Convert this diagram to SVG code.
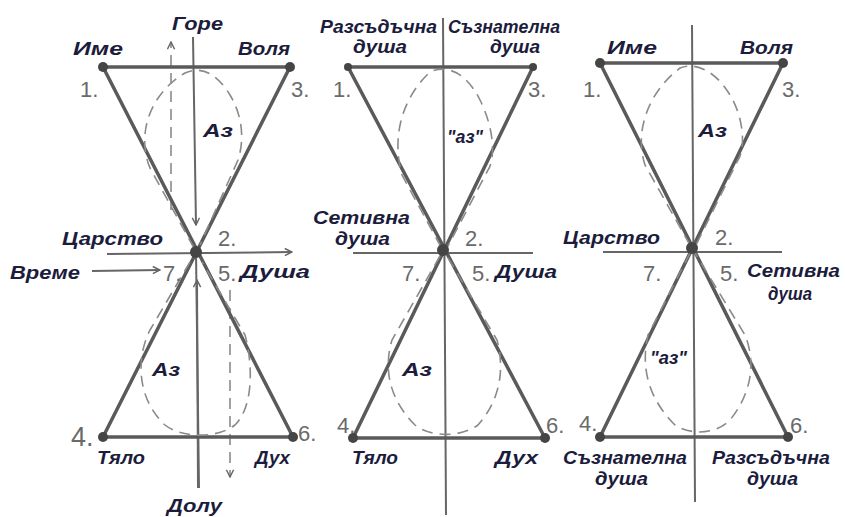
<svg xmlns="http://www.w3.org/2000/svg" width="845" height="517" viewBox="0 0 845 517">
<style>
.lbl{font-family:"Liberation Sans","DejaVu Sans",sans-serif;font-style:italic;font-weight:bold;font-size:19px;fill:#1c1c3c}
.num{font-family:"Liberation Sans","DejaVu Sans",sans-serif;font-size:22px;fill:#6a6a6a}
.tri{stroke:#5a5a5a;stroke-width:3.5;fill:none;stroke-linecap:round}
.axis{stroke:#666;stroke-width:2;fill:none}
.dash{stroke:#8a8a8a;stroke-width:1.6;fill:none;stroke-dasharray:11 7}
.dot{fill:#454545}
</style>
<defs>
<marker id="ah" viewBox="0 0 10 10" refX="9" refY="5" markerWidth="9" markerHeight="9" markerUnits="userSpaceOnUse" orient="auto">
<path d="M1 1 L9 5 L1 9" fill="none" stroke="#666" stroke-width="1.6"/>
</marker>
</defs>
<rect width="845" height="517" fill="#fff"/>

<g id="connectors">
<!-- diagram 1 -->
<line class="axis" x1="193" y1="37" x2="196" y2="225" marker-end="url(#ah)"/>
<line class="axis" x1="196" y1="252" x2="199" y2="488"/>
<line class="axis" x1="198" y1="488" x2="197" y2="280" marker-end="url(#ah)"/>
<line class="axis" x1="107" y1="254" x2="292" y2="252" marker-end="url(#ah)"/>
<line class="axis" x1="92" y1="271" x2="160" y2="270" marker-end="url(#ah)"/>
<line class="dash" x1="171" y1="210" x2="171" y2="42" marker-end="url(#ah)"/>
<line class="dash" x1="230" y1="290" x2="230" y2="477" marker-end="url(#ah)"/>
<path class="tri" d="M103 67 L290 67 M103 67 L293 437 M290 67 L103 437 M103 437 L293 437"/>
<path class="dash" d="M194 248 L150 168 C138 140 145 97 185 73 C200 66 216 72 230 95 C245 120 243 145 238 160 L200 245"/>
<path class="dash" d="M190 262 L150 330 C135 360 138 400 165 425 C180 437 215 440 235 425 C255 405 252 360 245 335 L202 262"/>
<!-- diagram 2 -->
<line class="axis" x1="443" y1="18" x2="446" y2="515"/>
<line class="axis" x1="353" y1="253" x2="533" y2="253"/>
<path class="tri" d="M348 67 L533 67 M348 67 L545 438 M533 67 L353 438 M353 438 L545 438"/>
<path class="dash" d="M441 247 L402 175 C392 140 400 100 430 72 C445 65 465 70 480 100 C495 130 495 160 488 170 L447 248"/>
<path class="dash" d="M440 256 L392 340 C383 370 390 400 415 425 C430 437 460 438 478 425 C500 400 505 370 497 340 L447 256"/>
<!-- diagram 3 -->
<line class="axis" x1="692" y1="25" x2="695" y2="502"/>
<line class="axis" x1="603" y1="252" x2="782" y2="252"/>
<path class="tri" d="M600 63 L783 63 M600 63 L788 437 M783 63 L600 437 M600 437 L788 437"/>
<path class="dash" d="M690 245 L645 165 C635 135 645 95 680 68 C695 62 715 70 730 95 C745 120 745 150 738 160 L696 245"/>
<path class="dash" d="M690 253 L648 335 C640 370 650 400 675 425 C690 435 715 435 730 420 C750 395 757 365 745 335 L695 253"/>
</g>

<g id="d1-n1"><circle class="dot" cx="103" cy="67" r="5"/><text class="num" x="80" y="97">1.</text><text class="lbl" x="73" y="55" textLength="50" lengthAdjust="spacingAndGlyphs">Име</text></g>
<g id="d1-n3"><circle class="dot" cx="290" cy="67" r="5"/><text class="num" x="291" y="97">3.</text><text class="lbl" x="238" y="55" textLength="52" lengthAdjust="spacingAndGlyphs">Воля</text></g>
<g id="d1-n2"><circle class="dot" cx="196" cy="252" r="6"/><text class="num" x="218" y="246">2.</text><text class="lbl" x="62" y="245" textLength="101" lengthAdjust="spacingAndGlyphs">Царство</text></g>
<g id="d1-n7"><text class="num" x="163" y="281">7.</text><text class="lbl" x="10" y="279" textLength="70" lengthAdjust="spacingAndGlyphs">Време</text></g>
<g id="d1-n5"><text class="num" x="218" y="281">5.</text><text class="lbl" x="240" y="278" textLength="70" lengthAdjust="spacingAndGlyphs">Душа</text></g>
<g id="d1-n4"><circle class="dot" cx="103" cy="437" r="5"/><text class="num" x="71" y="446" style="font-size:27px">4.</text><text class="lbl" x="97" y="464" textLength="48" lengthAdjust="spacingAndGlyphs">Тяло</text></g>
<g id="d1-n6"><circle class="dot" cx="293" cy="437" r="5"/><text class="num" x="298" y="441">6.</text><text class="lbl" x="255" y="464" textLength="35" lengthAdjust="spacingAndGlyphs">Дух</text></g>
<g id="d1-top"><text class="lbl" x="172" y="30" textLength="51" lengthAdjust="spacingAndGlyphs">Горе</text></g>
<g id="d1-bottom"><text class="lbl" x="167" y="512" textLength="55" lengthAdjust="spacingAndGlyphs">Долу</text></g>
<g id="d1-az1"><text class="lbl" x="203" y="137" textLength="30" lengthAdjust="spacingAndGlyphs">Аз</text></g>
<g id="d1-az2"><text class="lbl" x="152" y="376" textLength="28" lengthAdjust="spacingAndGlyphs">Аз</text></g>

<g id="d2-n1"><circle class="dot" cx="348" cy="67" r="4"/><text class="num" x="333" y="97">1.</text><text class="lbl" x="320" y="33" textLength="117" lengthAdjust="spacingAndGlyphs">Разсъдъчна</text><text class="lbl" x="353" y="53" textLength="54" lengthAdjust="spacingAndGlyphs">душа</text></g>
<g id="d2-n3"><circle class="dot" cx="533" cy="67" r="4"/><text class="num" x="528" y="97">3.</text><text class="lbl" x="448" y="33" textLength="112" lengthAdjust="spacingAndGlyphs">Съзнателна</text><text class="lbl" x="490" y="53" textLength="50" lengthAdjust="spacingAndGlyphs">душа</text></g>
<g id="d2-n2"><circle class="dot" cx="443" cy="250" r="6"/><text class="num" x="465" y="246">2.</text><text class="lbl" x="313" y="224" textLength="97" lengthAdjust="spacingAndGlyphs">Сетивна</text><text class="lbl" x="335" y="245" textLength="55" lengthAdjust="spacingAndGlyphs">душа</text></g>
<g id="d2-n7"><text class="num" x="402" y="281">7.</text></g>
<g id="d2-n5"><text class="num" x="472" y="281">5.</text><text class="lbl" x="495" y="278" textLength="62" lengthAdjust="spacingAndGlyphs">Душа</text></g>
<g id="d2-n4"><circle class="dot" cx="353" cy="438" r="5"/><text class="num" x="337" y="433">4.</text><text class="lbl" x="352" y="464" textLength="46" lengthAdjust="spacingAndGlyphs">Тяло</text></g>
<g id="d2-n6"><circle class="dot" cx="545" cy="438" r="5"/><text class="num" x="546" y="433">6.</text><text class="lbl" x="495" y="464" textLength="43" lengthAdjust="spacingAndGlyphs">Дух</text></g>
<g id="d2-az1"><text class="lbl" x="447" y="143" textLength="36" lengthAdjust="spacingAndGlyphs">"аз"</text></g>
<g id="d2-az2"><text class="lbl" x="402" y="376" textLength="30" lengthAdjust="spacingAndGlyphs">Аз</text></g>

<g id="d3-n1"><circle class="dot" cx="600" cy="63" r="5"/><text class="num" x="583" y="97">1.</text><text class="lbl" x="607" y="54" textLength="50" lengthAdjust="spacingAndGlyphs">Име</text></g>
<g id="d3-n3"><circle class="dot" cx="783" cy="63" r="5"/><text class="num" x="782" y="97">3.</text><text class="lbl" x="740" y="54" textLength="53" lengthAdjust="spacingAndGlyphs">Воля</text></g>
<g id="d3-n2"><circle class="dot" cx="692" cy="248" r="6"/><text class="num" x="715" y="245">2.</text><text class="lbl" x="563" y="244" textLength="97" lengthAdjust="spacingAndGlyphs">Царство</text></g>
<g id="d3-n7"><text class="num" x="643" y="281">7.</text></g>
<g id="d3-n5"><text class="num" x="720" y="281">5.</text><text class="lbl" x="747" y="277" textLength="93" lengthAdjust="spacingAndGlyphs">Сетивна</text><text class="lbl" x="768" y="300" textLength="44" lengthAdjust="spacingAndGlyphs">душа</text></g>
<g id="d3-n4"><circle class="dot" cx="600" cy="437" r="5"/><text class="num" x="579" y="431">4.</text><text class="lbl" x="563" y="464" textLength="124" lengthAdjust="spacingAndGlyphs">Съзнателна</text><text class="lbl" x="595" y="485" textLength="53" lengthAdjust="spacingAndGlyphs">душа</text></g>
<g id="d3-n6"><circle class="dot" cx="788" cy="437" r="5"/><text class="num" x="790" y="433">6.</text><text class="lbl" x="712" y="464" textLength="118" lengthAdjust="spacingAndGlyphs">Разсъдъчна</text><text class="lbl" x="747" y="485" textLength="51" lengthAdjust="spacingAndGlyphs">душа</text></g>
<g id="d3-az1"><text class="lbl" x="698" y="137" textLength="29" lengthAdjust="spacingAndGlyphs">Аз</text></g>
<g id="d3-az2"><text class="lbl" x="650" y="364" textLength="37" lengthAdjust="spacingAndGlyphs">"аз"</text></g>
</svg>
